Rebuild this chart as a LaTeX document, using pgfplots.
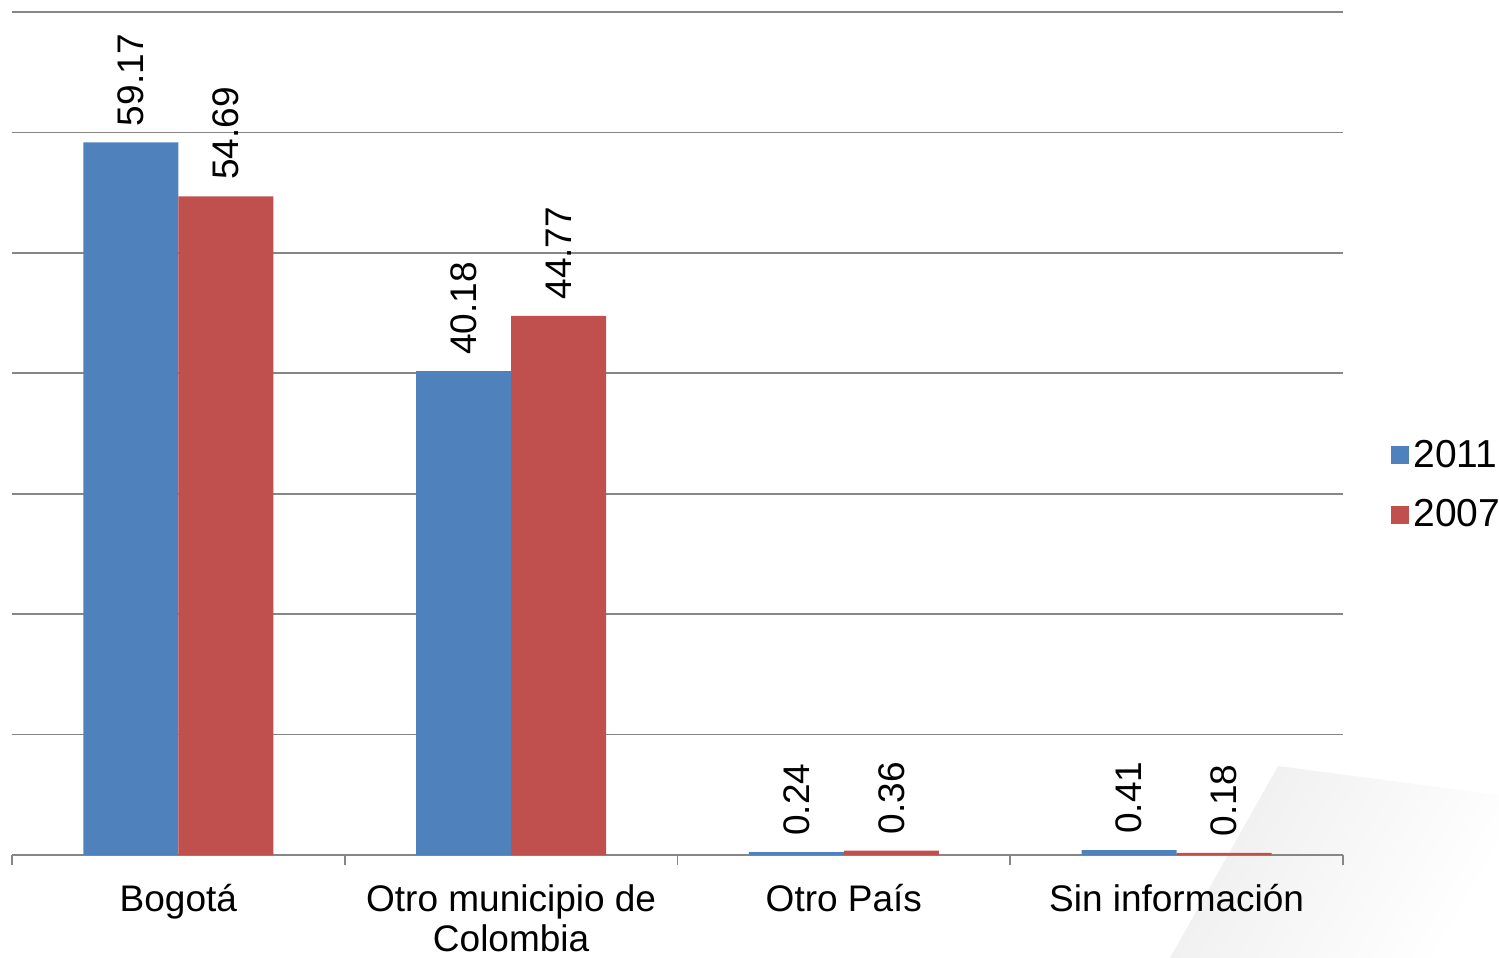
\documentclass[border=0pt]{standalone}
\usepackage{fontspec}
\setmainfont{Liberation Sans}
\usepackage{pgfplots}
\pgfplotsset{compat=1.18}
\definecolor{serieA}{HTML}{4F81BD}
\definecolor{serieB}{HTML}{C0504D}
\definecolor{rejilla}{HTML}{868686}
\begin{document}
\begin{tikzpicture}
\useasboundingbox (0,0) rectangle (749.5pt,479pt);
% doblez de pagina decorativo
\shade[left color=gray!13, right color=white, shading angle=60]
  (639pt,96pt) -- (749.5pt,81.5pt) -- (749.5pt,0pt) -- (585pt,0pt) -- cycle;
\begin{axis}[
  at={(6pt,51.5pt)}, anchor=south west,
  scale only axis, width=665.5pt, height=421.5pt,
  ybar=0pt, bar width=47.5pt,
  xmin=-0.5, xmax=3.5, ymin=0, ymax=70,
  xtick={0,1,2,3},
  xticklabels={Bogotá, {Otro municipio de\\Colombia}, Otro País, Sin información},
  major x tick style={draw=none},
  minor xtick={-0.5,0.5,1.5,2.5,3.5},
  minor tick length=5pt,
  minor x tick style={rejilla, line width=0.8pt},
  tick align=outside,
  ytick={0,10,...,70}, yticklabels={},
  major y tick style={draw=none},
  ymajorgrids, major grid style={rejilla, line width=0.8pt},
  axis x line*=bottom, axis y line*=left,
  y axis line style={draw=none},
  x axis line style={rejilla, line width=0.8pt, -},
  xticklabel style={align=center, font=\fontsize{18.5}{20}\selectfont, yshift=-7pt},
  nodes near coords,
  every node near coord/.append style={rotate=90, anchor=west, inner xsep=8pt,
    font=\fontsize{18.5}{21}\selectfont},
  /pgf/number format/.cd, fixed, fixed zerofill, precision=2, assume math mode=true,
  /pgfplots/.cd,
  legend style={at={(1.0316,0.439)}, anchor=west, draw=none, fill=none,
    font=\fontsize{19.5}{21}\selectfont, row sep=10.5pt},
  legend cell align=left,
  legend image code/.code={\fill[#1] (0pt,-4.5pt) rectangle (9pt,4.5pt);},
]
\addplot[fill=serieA, draw=none] coordinates {(0,59.17) (1,40.18) (2,0.24) (3,0.41)};
\addplot[fill=serieB, draw=none] coordinates {(0,54.69) (1,44.77) (2,0.36) (3,0.18)};
\legend{2011,2007}
\end{axis}
\end{tikzpicture}
\end{document}
